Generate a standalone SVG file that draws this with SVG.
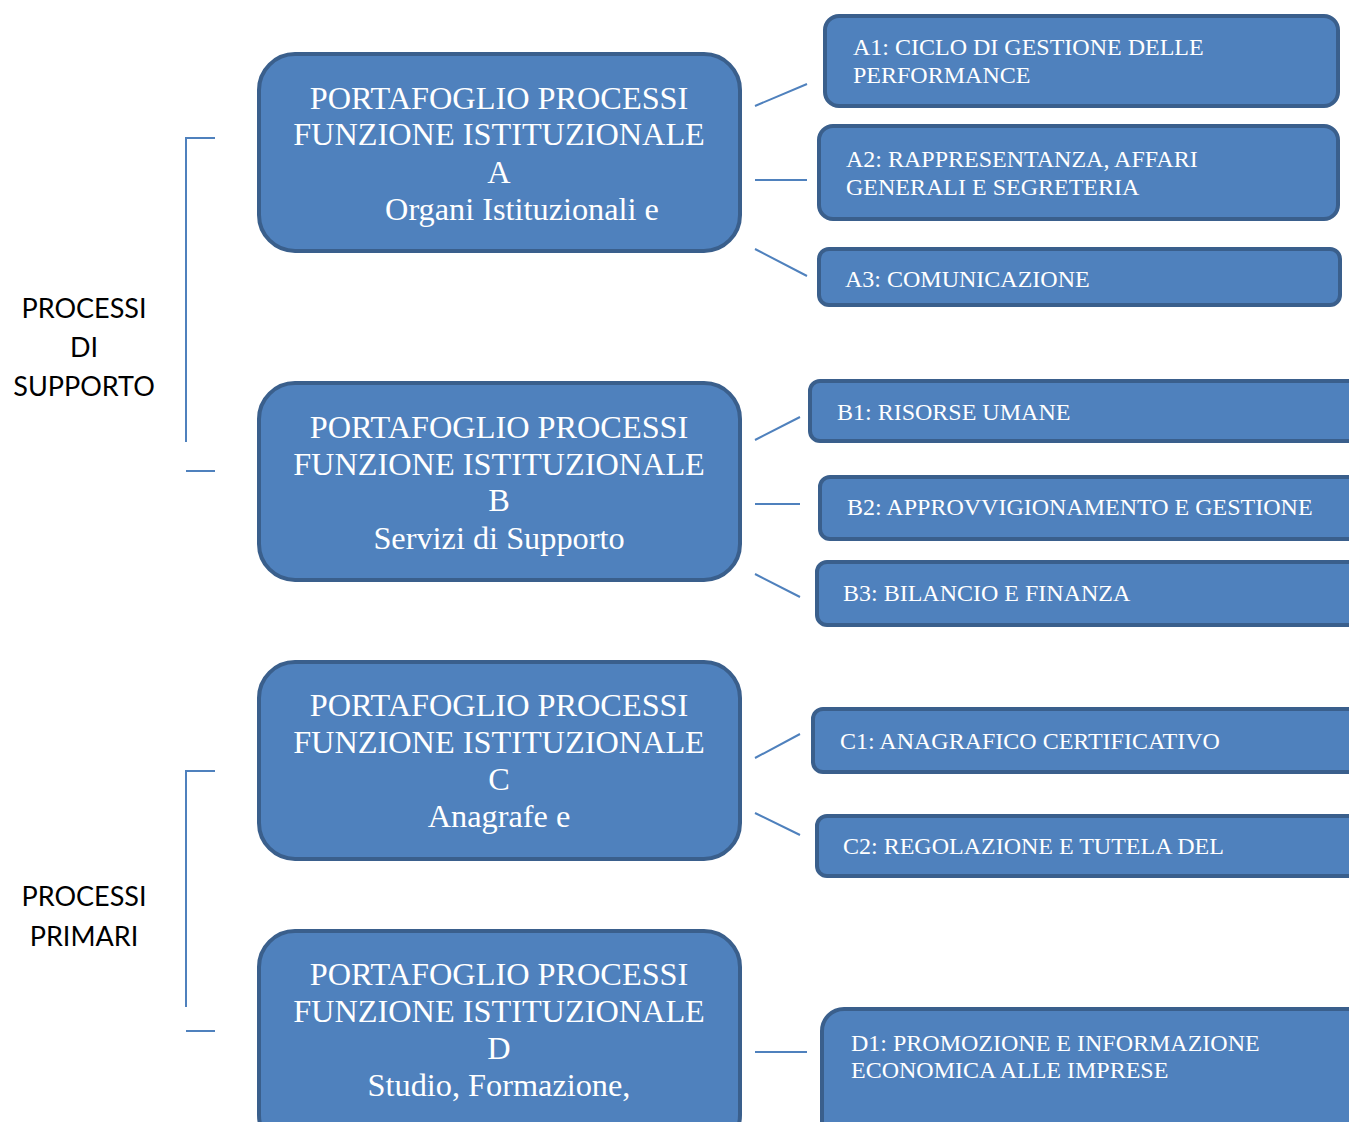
<svg xmlns="http://www.w3.org/2000/svg" width="1349" height="1122" viewBox="0 0 1349 1122">
<style>
.big{fill:#4F81BD;stroke:#3A5F8C;stroke-width:4}
.sm{fill:#4F81BD;stroke:#3A5F8C;stroke-width:4}
.bt{font-family:"Liberation Serif",serif;font-size:32.3px;fill:#fff;text-anchor:middle}
.st{font-family:"Liberation Serif",serif;font-size:24px;fill:#fff}
.lt{font-family:Lato,"Liberation Sans",sans-serif;font-size:27px;fill:#000;text-anchor:middle}
.ln{stroke:#4F81BD;stroke-width:2;fill:none}
</style>
<rect width="1349" height="1122" fill="#fff"/>
<g id="connectors">
<path class="ln" d="M755 106L807 84M755 180H807M755 249L807 276"/>
<path class="ln" d="M755 440L800 417M755 504H800M755 574L800 597"/>
<path class="ln" d="M755 758L800 734M755 813L800 835"/>
<path class="ln" d="M755 1052H807"/>
<path class="ln" d="M215 138H186V442M186 471H215"/>
<path class="ln" d="M215 771H186V1007M186 1031H215"/>
</g>
<g id="label-supporto">
<text class="lt" x="84" y="318">PROCESSI</text>
<text class="lt" x="84" y="357">DI</text>
<text class="lt" x="84" y="396">SUPPORTO</text>
</g>
<g id="label-primari">
<text class="lt" x="84" y="906">PROCESSI</text>
<text class="lt" x="84" y="946">PRIMARI</text>
</g>
<g id="nodeA">
<rect class="big" x="259" y="54" width="481" height="197" rx="36"/>
<text class="bt" x="499" y="109">PORTAFOGLIO PROCESSI</text>
<text class="bt" x="499" y="145">FUNZIONE ISTITUZIONALE</text>
<text class="bt" x="499" y="183">A</text>
<text class="bt" x="522" y="220">Organi Istituzionali e</text>
</g>
<g id="nodeB">
<rect class="big" x="259" y="383" width="481" height="197" rx="36"/>
<text class="bt" x="499" y="438">PORTAFOGLIO PROCESSI</text>
<text class="bt" x="499" y="475">FUNZIONE ISTITUZIONALE</text>
<text class="bt" x="499" y="511">B</text>
<text class="bt" x="499" y="549">Servizi di Supporto</text>
</g>
<g id="nodeC">
<rect class="big" x="259" y="662" width="481" height="197" rx="36"/>
<text class="bt" x="499" y="716">PORTAFOGLIO PROCESSI</text>
<text class="bt" x="499" y="753">FUNZIONE ISTITUZIONALE</text>
<text class="bt" x="499" y="790">C</text>
<text class="bt" x="499" y="827">Anagrafe e</text>
</g>
<g id="nodeD">
<rect class="big" x="259" y="931" width="481" height="220" rx="36"/>
<text class="bt" x="499" y="985">PORTAFOGLIO PROCESSI</text>
<text class="bt" x="499" y="1022">FUNZIONE ISTITUZIONALE</text>
<text class="bt" x="499" y="1059">D</text>
<text class="bt" x="499" y="1096">Studio, Formazione,</text>
</g>
<g id="nodeA1">
<rect class="sm" x="825" y="16" width="513" height="90" rx="14"/>
<text class="st" x="853" y="55">A1: CICLO DI GESTIONE DELLE</text>
<text class="st" x="853" y="83">PERFORMANCE</text>
</g>
<g id="nodeA2">
<rect class="sm" x="819" y="126" width="519" height="93" rx="14"/>
<text class="st" x="846" y="167">A2: RAPPRESENTANZA, AFFARI</text>
<text class="st" x="846" y="195">GENERALI E SEGRETERIA</text>
</g>
<g id="nodeA3">
<rect class="sm" x="819" y="249" width="521" height="56" rx="10"/>
<text class="st" x="845" y="287">A3: COMUNICAZIONE</text>
</g>
<g id="nodeB1">
<rect class="sm" x="810" y="381" width="560" height="60" rx="10"/>
<text class="st" x="837" y="420">B1: RISORSE UMANE</text>
</g>
<g id="nodeB2">
<rect class="sm" x="820" y="477" width="550" height="62" rx="10"/>
<text class="st" x="847" y="515">B2: APPROVVIGIONAMENTO E GESTIONE</text>
</g>
<g id="nodeB3">
<rect class="sm" x="817" y="562" width="553" height="63" rx="10"/>
<text class="st" x="843" y="601">B3: BILANCIO E FINANZA</text>
</g>
<g id="nodeC1">
<rect class="sm" x="813" y="709" width="557" height="63" rx="10"/>
<text class="st" x="840" y="749">C1: ANAGRAFICO CERTIFICATIVO</text>
</g>
<g id="nodeC2">
<rect class="sm" x="817" y="816" width="553" height="60" rx="10"/>
<text class="st" x="843" y="854">C2: REGOLAZIONE E TUTELA DEL</text>
</g>
<g id="nodeD1">
<rect class="sm" x="822" y="1009" width="548" height="140" rx="22"/>
<text class="st" x="851" y="1051">D1: PROMOZIONE E INFORMAZIONE</text>
<text class="st" x="851" y="1078">ECONOMICA ALLE IMPRESE</text>
</g>
</svg>
